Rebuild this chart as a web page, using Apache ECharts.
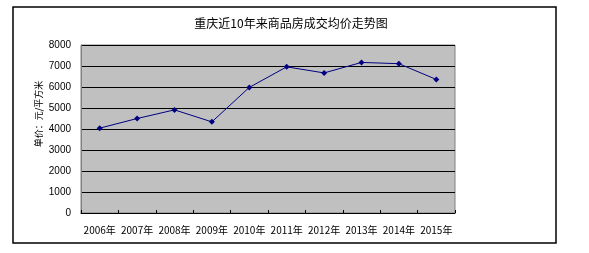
<!DOCTYPE html>
<html><head><meta charset="utf-8">
<script src="https://cdn.jsdelivr.net/npm/echarts@6/dist/echarts.min.js"></script>
<style>html,body{margin:0;padding:0;background:#fff}#c{width:589px;height:253px}</style>
</head><body><div id="c"></div>
<script>
const titleText = '重庆近10年来商品房成交均价走势图';
const yAxisLabel = '单价：元/平方米';
const categories = ['2006年','2007年','2008年','2009年','2010年','2011年','2012年','2013年','2014年','2015年'];
const prices = [4040, 4500, 4910, 4340, 5980, 6960, 6670, 7170, 7110, 6360];
const yMin = 0, yMax = 8000, yStep = 1000;

const chart = echarts.init(document.getElementById('c'), null, {renderer:'canvas'});
const font = '"Noto Sans CJK SC", "Liberation Sans", sans-serif';
chart.setOption({
  backgroundColor: '#ffffff',
  animation: false,
  title: {
    text: titleText, left: 286, top: 12, textAlign: 'center',
    textStyle: {fontSize: 12, fontWeight: 'normal', color: '#000', fontFamily: font}
  },
  graphic: [
    {type: 'rect', shape: {x: 13, y: 7, width: 543, height: 236}, style: {fill: 'none', stroke: '#000', lineWidth: 1.5}, z: -1},
    {type: 'text', x: 39, y: 114, rotation: Math.PI/2, style: {text: yAxisLabel, fill: '#000', font: '9px ' + font, align: 'center', verticalAlign: 'middle'}}
  ],
  grid: {left: 81, top: 45, width: 374, height: 168, show: true, backgroundColor: '#c0c0c0', borderColor: '#808080', borderWidth: 1},
  xAxis: {
    type: 'category', data: categories, boundaryGap: true,
    axisLine: {lineStyle: {color: '#000', width: 1}},
    axisTick: {show: true, inside: true, length: 3, lineStyle: {color: '#000'}},
    axisLabel: {color: '#000', fontSize: 10, fontFamily: font, margin: 12, interval: 0}
  },
  yAxis: {
    type: 'value', min: yMin, max: yMax, interval: yStep,
    axisLine: {show: true, lineStyle: {color: '#808080'}},
    axisTick: {show: false},
    axisLabel: {color: '#000', fontSize: 10, fontFamily: '"Liberation Sans", sans-serif', margin: 10, formatter: v => String(v)},
    splitLine: {lineStyle: {color: '#000', width: 1}}
  },
  series: [{
    type: 'line', data: prices,
    lineStyle: {color: '#000080', width: 1},
    itemStyle: {color: '#000080'},
    symbol: 'diamond', symbolSize: 6
  }]
});
</script></body></html>
